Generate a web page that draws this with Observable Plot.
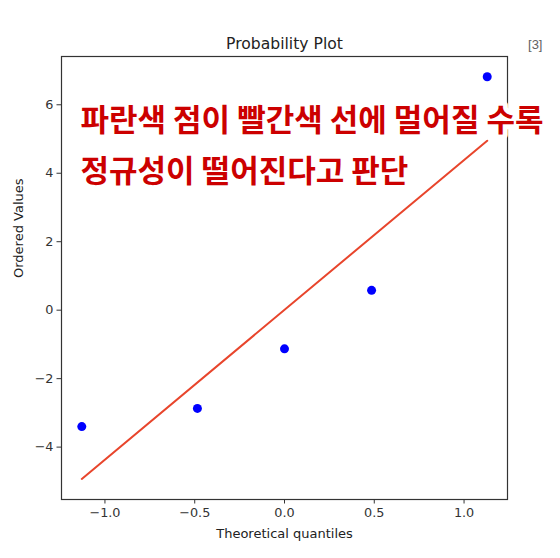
<!DOCTYPE html>
<html>
<head>
<meta charset="utf-8">
<script src="https://cdn.jsdelivr.net/npm/d3@7"></script>
<script src="https://cdn.jsdelivr.net/npm/@observablehq/plot@0.6"></script>
<style>
  html, body { margin: 0; padding: 0; background: #fff; }
</style>
</head>
<body>
<div id="chart"></div>
<script>
// Theoretical quantiles (x) and ordered values (y)
const quantiles = [-1.129, -0.485, 0.0, 0.485, 1.129];
const orderedValues = [-3.40, -2.87, -1.13, 0.58, 6.82];
// Fitted (red) line, read at its two ends
const fitX = [-1.129, 1.129];
const fitY = [-4.93, 4.95];
const xTicks = [-1.0, -0.5, 0.0, 0.5, 1.0];
const yTicks = [-4, -2, 0, 2, 4, 6];
const titleText = "Probability Plot";
const xLabel = "Theoretical quantiles";
const yLabel = "Ordered Values";
const cellLabel = "[3]";
const noteLines = ["파란색 점이 빨간색 선에 멀어질 수록", "정규성이 떨어진다고 판단"];

const points = quantiles.map((q, i) => ({q, v: orderedValues[i]}));
const fit = fitX.map((q, i) => ({q, v: fitY[i]}));

const tickFont = "DejaVu Sans";
const chart = Plot.plot({
  width: 560,
  height: 558,
  marginLeft: 61,
  marginRight: 53,
  marginTop: 56,
  marginBottom: 59,
  style: {fontFamily: tickFont, background: "#fff", overflow: "visible"},
  x: {domain: [-1.242, 1.242]},
  y: {domain: [-5.53, 7.41]},
  marks: [
    Plot.frame({stroke: "#333", strokeWidth: 1.2}),
    Plot.axisX({ticks: xTicks, tickSize: 4.5, tickPadding: 3.5, tickFormat: d3.format(".1f"), fontSize: 12.8, color: "#333", label: null}),
    Plot.axisY({ticks: yTicks, tickSize: 4.5, tickPadding: 3.5, tickFormat: d3.format("d"), fontSize: 12.8, color: "#333", label: null}),
    Plot.text([titleText], {frameAnchor: "top", dy: -13, fontSize: 15.6, fill: "#222", lineAnchor: "middle"}),
    Plot.text([cellLabel], {frameAnchor: "top-right", dx: 35, dy: -12, fontSize: 13, fill: "#616161", lineAnchor: "middle", fontFamily: "Liberation Sans"}),
    Plot.text([xLabel], {frameAnchor: "bottom", dy: 34, fontSize: 13, fill: "#222", lineAnchor: "middle"}),
    Plot.text([yLabel], {frameAnchor: "left", dx: -43, rotate: -90, fontSize: 13, fill: "#222", lineAnchor: "middle"}),
    Plot.text([noteLines[0]], {frameAnchor: "top-left", dx: 19, dy: 65, textAnchor: "start", lineAnchor: "middle",
      fontSize: 31, fontWeight: "bold", fontFamily: "Noto Sans CJK KR", fill: "#cc0000",
      stroke: "white", strokeWidth: 10, strokeLinejoin: "round"}),
    Plot.text([noteLines[1]], {frameAnchor: "top-left", dx: 19, dy: 116, textAnchor: "start", lineAnchor: "middle",
      fontSize: 31, fontWeight: "bold", fontFamily: "Noto Sans CJK KR", fill: "#cc0000",
      stroke: "white", strokeWidth: 10, strokeLinejoin: "round"}),
    Plot.line(fit, {x: "q", y: "v", stroke: "#e8452c", strokeWidth: 2}),
    Plot.dot(points, {x: "q", y: "v", r: 4.5, fill: "#0000ff", stroke: "none"})
  ]
});
document.getElementById("chart").appendChild(chart);
</script>
</body>
</html>
